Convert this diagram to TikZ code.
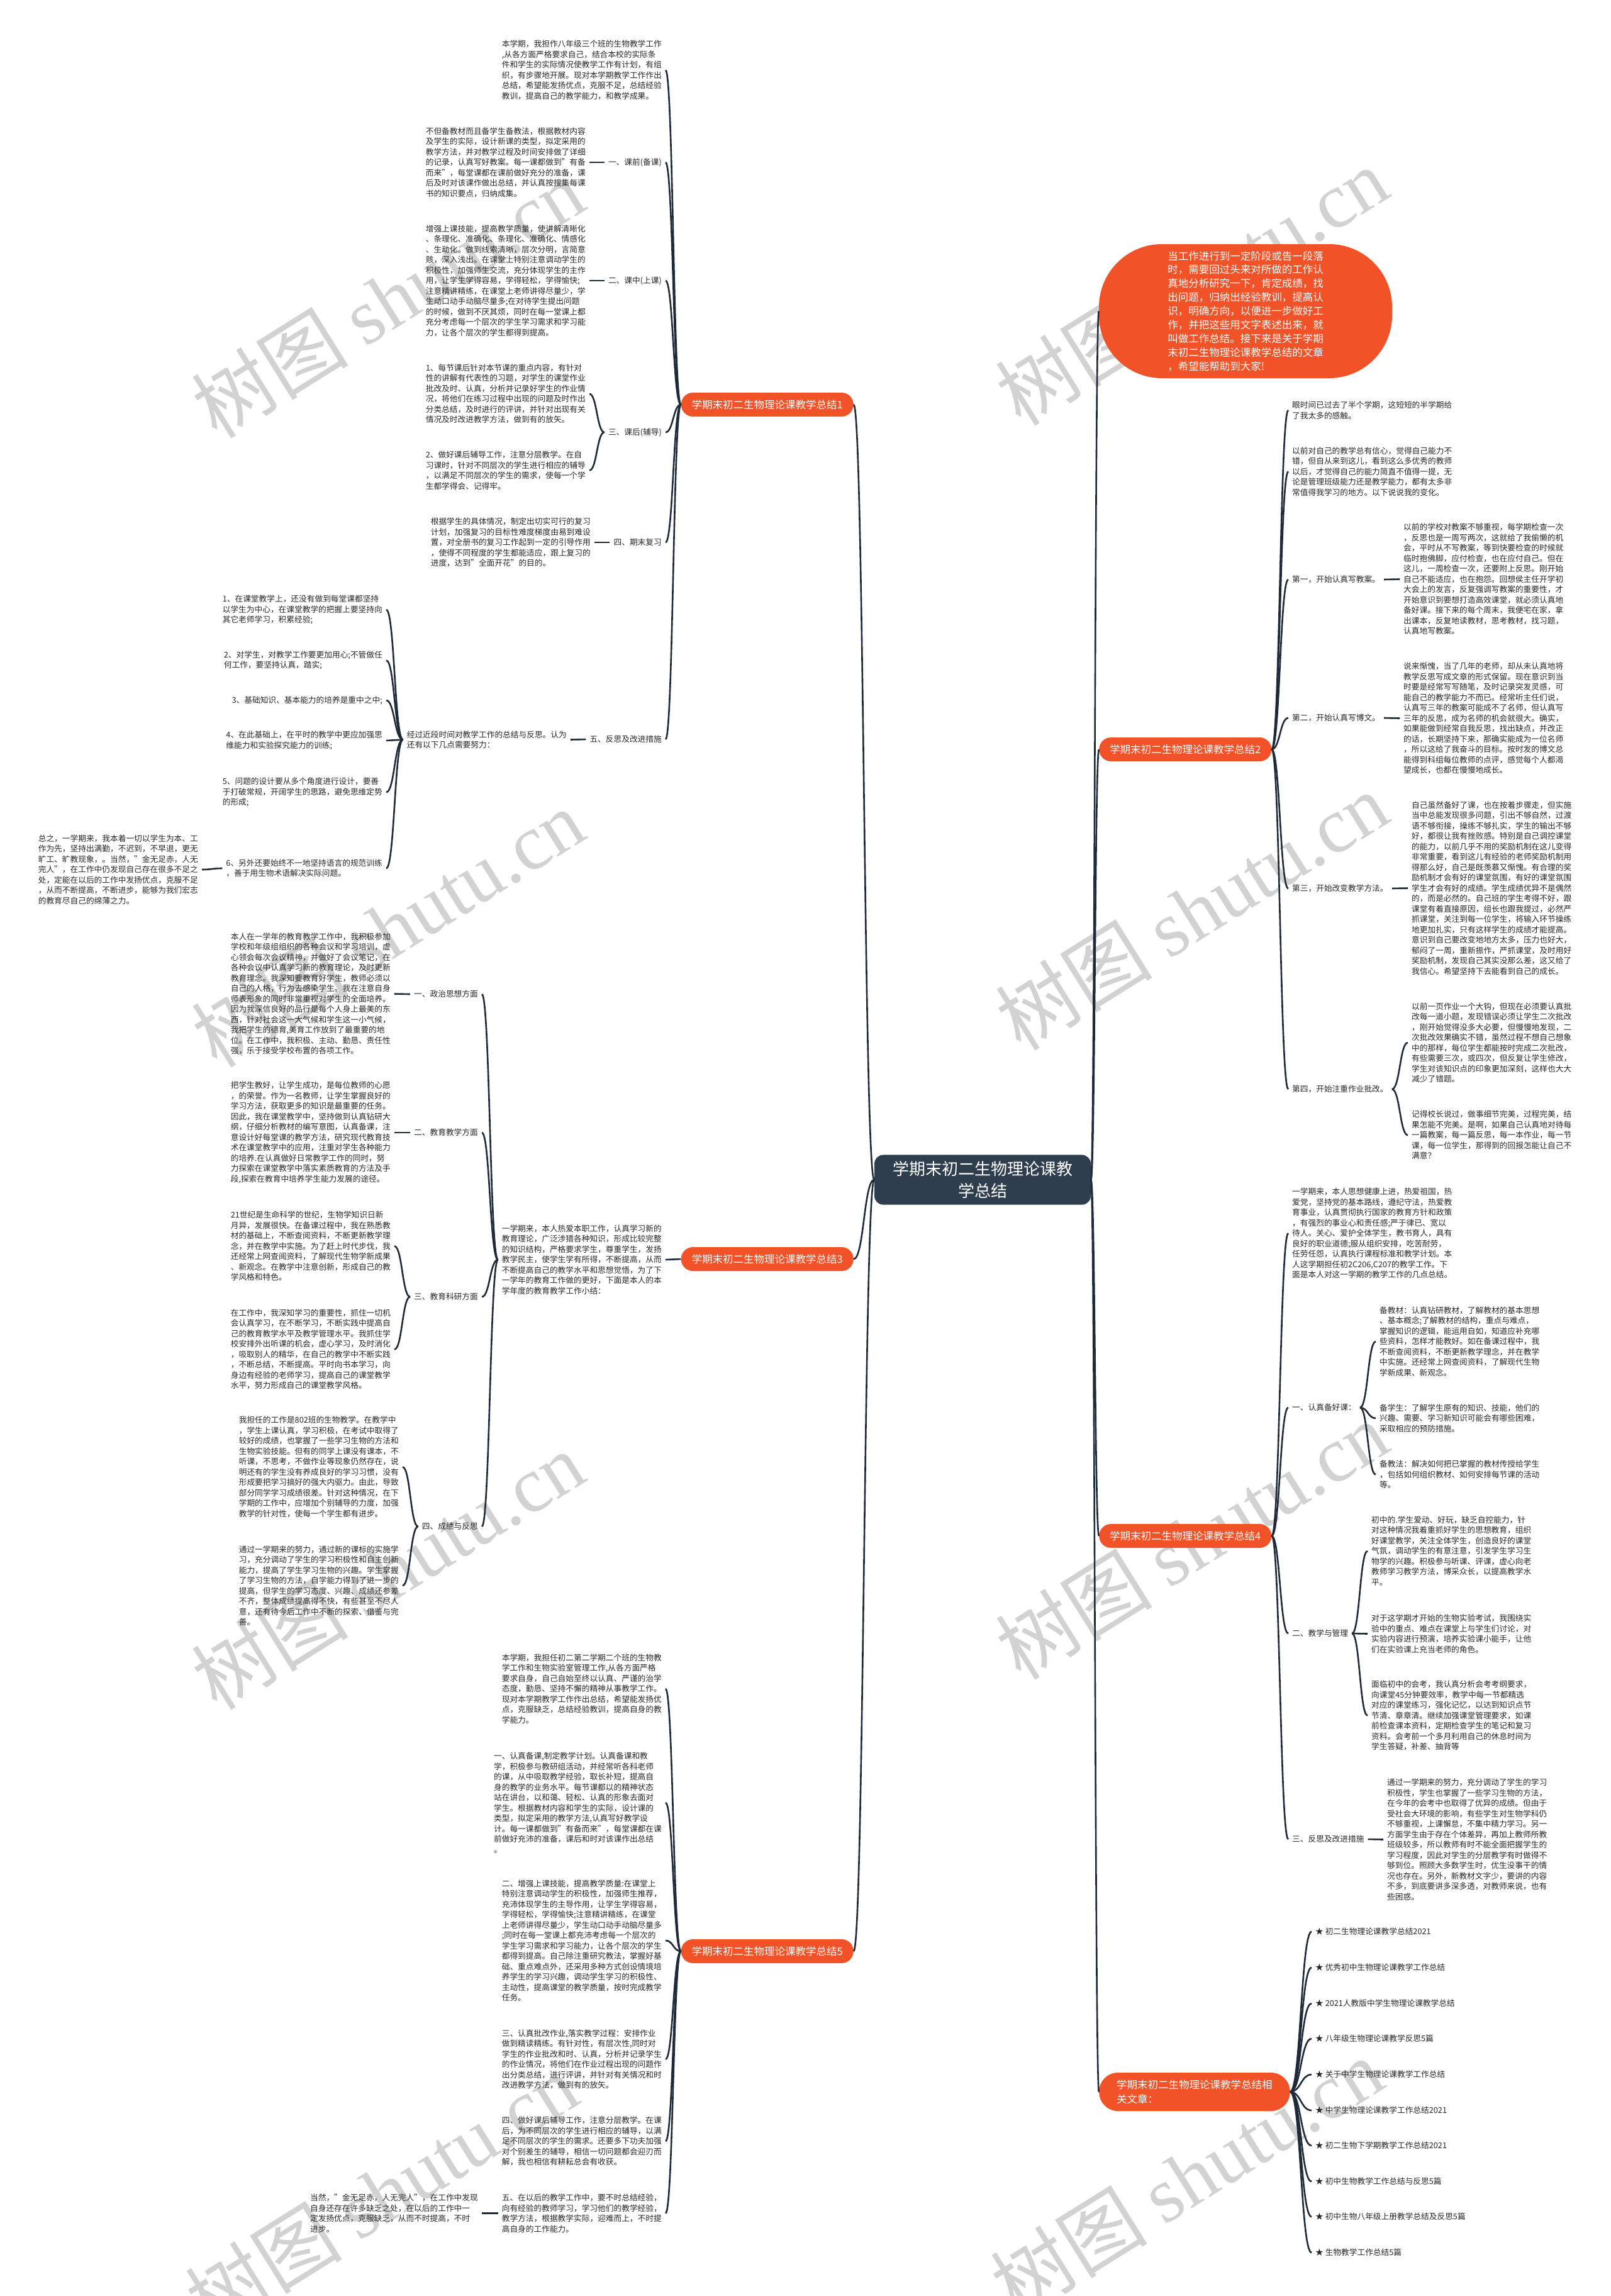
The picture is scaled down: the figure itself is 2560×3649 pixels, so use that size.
\documentclass[tikz,border=0pt]{standalone}
\usepackage{fontspec}
\setmainfont{Noto Sans CJK SC}
\newfontfamily\wmserif{Liberation Serif}
\usetikzlibrary{calc}
\definecolor{redn}{RGB}{242,82,40}
\definecolor{darkn}{RGB}{47,62,78}
\definecolor{linec}{RGB}{30,42,56}
\definecolor{txt}{RGB}{40,40,40}
\definecolor{wmc}{RGB}{210,210,210}
\tikzset{
 conn/.style={draw=linec, line width=2.6pt},
 body/.style={font=\fontsize{12.7}{16.5}\selectfont, text=txt, align=left, inner xsep=6pt, inner ysep=3pt},
 bodyL/.style={body, anchor=east},
 bodyR/.style={body, anchor=west},
 branch/.style={fill=redn, text=white, font=\fontsize{16.5}{21}\selectfont, rounded corners=19pt, inner xsep=17pt, minimum height=38pt},
 centern/.style={fill=darkn, text=white, font=\fontsize{26}{35}\selectfont, align=center, rounded corners=14pt, inner xsep=29pt, inner ysep=10pt},
 wm/.style={text=wmc, font=\fontsize{125}{125}\selectfont, rotate=32, anchor=base west, inner sep=0pt}
}
\newcommand\sconn[2]{\draw[conn] let \p1=(#1), \p2=(#2), \p3=($(\p1)!0.5!(\p2)$) in (\p1) .. controls (\x3,\y1) and (\x3,\y2) .. (\p2);}
\begin{document}
\begin{tikzpicture}[x=1pt,y=-1pt]
\useasboundingbox (0,0) rectangle (2560,3649);
\fill[white] (0,0) rectangle (2560,3649);
% watermarks
\node[wm] (w1) at (345,700) {树图 {\wmserif shutu.cn}};
\node[wm] (w2) at (345,1700) {树图 {\wmserif shutu.cn}};
\node[wm] (w3) at (345,2721) {树图 {\wmserif shutu.cn}};
\node[wm] (w4) at (335,3710) {树图 {\wmserif shutu.cn}};
\node[wm] (w5) at (1623,680) {树图 {\wmserif shutu.cn}};
\node[wm] (w6) at (1623,1673) {树图 {\wmserif shutu.cn}};
\node[wm] (w7) at (1623,2673) {树图 {\wmserif shutu.cn}};
\node[wm] (w8) at (1615,3685) {树图 {\wmserif shutu.cn}};

% central and main branches
\node[centern] (C) at (1562,1875) {学期末初二生物理论课教\\学总结};
\node[fill=redn, text=white, font=\fontsize{16.5}{21.9}\selectfont, align=left, rounded corners=100pt, minimum width=466pt, minimum height=213pt] (R0) at (1980,494.5) {当工作进行到一定阶段或告一段落\\时，需要回过头来对所做的工作认\\真地分析研究一下，肯定成绩，找\\出问题，归纳出经验教训，提高认\\识，明确方向，以便进一步做好工\\作，并把这些用文字表述出来，就\\叫做工作总结。接下来是关于学期\\末初二生物理论课教学总结的文章\\，希望能帮助到大家!};
\node[branch, anchor=east] (B1) at (1357,643) {学期末初二生物理论课教学总结1};
\node[branch, anchor=west] (B2) at (1747,1191) {学期末初二生物理论课教学总结2};
\node[branch, anchor=east] (B3) at (1357,2001) {学期末初二生物理论课教学总结3};
\node[branch, anchor=west] (B4) at (1747,2441) {学期末初二生物理论课教学总结4};
\node[branch, anchor=east] (B5) at (1357,3101) {学期末初二生物理论课教学总结5};
\node[fill=redn, text=white, font=\fontsize{16.5}{23}\selectfont, align=left, rounded corners=30pt, inner xsep=28pt, minimum height=61pt, anchor=west] (B6) at (1747,3324.5) {学期末初二生物理论课教学总结相\\关文章：};

% ===== Branch 1 =====
\node[bodyL] (t1a) at (1058,111.5) {本学期，我担作八年级三个班的生物教学工作\\,从各方面严格要求自己，结合本校的实际条\\件和学生的实际情况使教学工作有计划，有组\\织，有步骤地开展。现对本学期教学工作作出\\总结，希望能发扬优点，克服不足，总结经验\\教训，提高自己的教学能力，和教学成果。};
\node[bodyL] (l1b) at (1058,258) {一、课前(备课)};
\node[bodyL] (t1b) at (937,258) {不但备教材而且备学生备教法，根据教材内容\\及学生的实际，设计新课的类型，拟定采用的\\教学方法，并对教学过程及时间安排做了详细\\的记录，认真写好教案。每一课都做到"有备\\而来"，每堂课都在课前做好充分的准备，课\\后及时对该课作做出总结，并认真按搜集每课\\书的知识要点，归纳成集。};
\node[bodyL] (l1c) at (1058,446) {二、课中(上课)};
\node[bodyL] (t1c) at (937,446) {增强上课技能，提高教学质量，使讲解清晰化\\、条理化、准确化、条理化、准确化、情感化\\、生动化。做到线索清晰，层次分明，言简意\\赅，深入浅出。在课堂上特别注意调动学生的\\积极性，加强师生交流，充分体现学生的主作\\用，让学生学得容易，学得轻松，学得愉快;\\注意精讲精练，在课堂上老师讲得尽量少，学\\生动口动手动脑尽量多;在对待学生提出问题\\的时候，做到不厌其烦，同时在每一堂课上都\\充分考虑每一个层次的学生学习需求和学习能\\力，让各个层次的学生都得到提高。};
\node[bodyL] (l1d) at (1058,687) {三、课后(辅导)};
\node[bodyL] (t1d1) at (937,626) {1、每节课后针对本节课的重点内容，有针对\\性的讲解有代表性的习题，对学生的课堂作业\\批改及时、认真，分析并记录好学生的作业情\\况，将他们在练习过程中出现的问题及时作出\\分类总结，及时进行的评讲，并针对出现有关\\情况及时改进教学方法，做到有的放矢。};
\node[bodyL] (t1d2) at (937,747.5) {2、做好课后辅导工作，注意分层教学。在自\\习课时，针对不同层次的学生进行相应的辅导\\，以满足不同层次的学生的需求，使每一个学\\生都学得会、记得牢。};
\node[bodyL] (l1e) at (1058,862) {四、期末复习};
\node[bodyL] (t1e) at (945,862) {根据学生的具体情况，制定出切实可行的复习\\计划，加强复习的目标性难度梯度由易到难设\\置，对全册书的复习工作起到一定的引导作用\\，使得不同程度的学生都能适应，跟上复习的\\进度，达到"全面开花"的目的。};
\node[bodyL] (l1f) at (1058,1175) {五、反思及改进措施};
\node[bodyL] (t1f) at (907,1175.5) {经过近段时间对教学工作的总结与反思。认为\\还有以下几点需要努力：};
\node[bodyL] (t1f1) at (614,969) {1、在课堂教学上，还没有做到每堂课都坚持\\以学生为中心，在课堂教学的把握上要坚持向\\其它老师学习，积累经验;};
\node[bodyL] (t1f2) at (614,1049.5) {2、对学生，对教学工作要更加用心;不管做任\\何工作，要坚持认真，踏实;};
\node[bodyL] (t1f3) at (614,1113) {3、基础知识、基本能力的培养是重中之中;};
\node[bodyL] (t1f4) at (614,1177) {4、在此基础上，在平时的教学中更应加强思\\维能力和实验探究能力的训练;};
\node[bodyL] (t1f5) at (614,1259) {5、问题的设计要从多个角度进行设计，要善\\于打破常规，开阔学生的思路，避免思维定势\\的形成;};
\node[bodyL] (t1f6) at (614,1380) {6、另外还要始终不一地坚持语言的规范训练\\，善于用生物术语解决实际问题。};
\node[bodyL] (t1f6a) at (321,1382) {总之，一学期来，我本着一切以学生为本、工\\作为先，坚持出满勤，不迟到，不早退，更无\\旷工、旷教现象，。当然，"金无足赤，人无\\完人"，在工作中仍发现自己存在很多不足之\\处，定能在以后的工作中发扬优点，克服不足\\，从而不断提高，不断进步，能够为我们宏志\\的教育尽自己的绵薄之力。};

% ===== Branch 3 =====
\node[bodyL] (t3a) at (1058,2002) {一学期来，本人热爱本职工作，认真学习新的\\教育理论，广泛涉猎各种知识，形成比较完整\\的知识结构，严格要求学生，尊重学生，发扬\\教学民主，使学生学有所得，不断提高，从而\\不断提高自己的教学水平和思想觉悟，为了下\\一学年的教育工作做的更好，下面是本人的本\\学年度的教育教学工作小结：};
\node[bodyL] (l3a) at (766,1580) {一、政治思想方面};
\node[bodyL] (t3a1) at (627,1579.5) {本人在一学年的教育教学工作中，我积极参加\\学校和年级组组织的各种会议和学习培训，虚\\心领会每次会议精神，并做好了会议笔记，在\\各种会议中认真学习新的教育理论，及时更新\\教育理念。我深知要教育好学生，教师必须以\\自己的人格，行为去感染学生。我在注意自身\\师表形象的同时非常重视对学生的全面培养。\\因为我深信良好的品行是每个人身上最美的东\\西，针对社会这一大气候和学生这一小气候，\\我把学生的德育,美育工作放到了最重要的地\\位。在工作中，我积极、主动、勤恳、责任性\\强，乐于接受学校布置的各项工作。};
\node[bodyL] (l3b) at (766,1800) {二、教育教学方面};
\node[bodyL] (t3b1) at (627,1800) {把学生教好，让学生成功，是每位教师的心愿\\，的荣誉。作为一名教师，让学生掌握良好的\\学习方法，获取更多的知识是最重要的任务。\\因此，我在课堂教学中，坚持做到认真钻研大\\纲，仔细分析教材的编写意图，认真备课，注\\意设计好每堂课的教学方法，研究现代教育技\\术在课堂教学中的应用，注重对学生各种能力\\的培养.在认真做好日常教学工作的同时，努\\力探索在课堂教学中落实素质教育的方法及手\\段,探索在教育中培养学生能力发展的途径。};
\node[bodyL] (l3c) at (766,2061) {三、教育科研方面};
\node[bodyL] (t3c1) at (627,1980.5) {21世纪是生命科学的世纪，生物学知识日新\\月异，发展很快。在备课过程中，我在熟悉教\\材的基础上，不断查阅资料，不断更新教学理\\念，并在教学中实施。为了赶上时代步伐，我\\还经常上网查阅资料，了解现代生物学新成果\\、新观念。在教学中注意创新，形成自己的教\\学风格和特色。};
\node[bodyL] (t3c2) at (627,2144.5) {在工作中，我深知学习的重要性，抓住一切机\\会认真学习，在不断学习，不断实践中提高自\\己的教育教学水平及教学管理水平。我抓住学\\校安排外出听课的机会，虚心学习，及时消化\\，吸取别人的精华，在自己的教学中不断实践\\，不断总结，不断提高。平时向书本学习，向\\身边有经验的老师学习，提高自己的课堂教学\\水平，努力形成自己的课堂教学风格。};
\node[bodyL] (l3d) at (766,2426) {四、成绩与反思};
\node[bodyL] (t3d1) at (640,2331.5) {我担任的工作是802班的生物教学。在教学中\\，学生上课认真，学习积极，在考试中取得了\\较好的成绩，也掌握了一些学习生物的方法和\\生物实验技能。但有的同学上课没有课本，不\\听课，不思考，不做作业等现象仍然存在，说\\明还有的学生没有养成良好的学习习惯，没有\\形成要把学习搞好的强大内驱力。由此，导致\\部分同学学习成绩很差。针对这种情况，在下\\学期的工作中，应增加个别辅导的力度，加强\\教学的针对性，使每一个学生都有进步。};
\node[bodyL] (t3d2) at (640,2520) {通过一学期来的努力，通过新的课标的实施学\\习，充分调动了学生的学习积极性和自主创新\\能力，提高了学生学习生物的兴趣。学生掌握\\了学习生物的方法，自学能力得到了进一步的\\提高，但学生的学习态度、兴趣、成绩还参差\\不齐，整体成绩提高得不快，有些甚至不尽人\\意，还有待今后工作中不断的探索、借鉴与完\\善。};

% ===== Branch 5 =====
\node[bodyL] (t5a) at (1058,2684) {本学期，我担任初二第二学期二个班的生物教\\学工作和生物实验室管理工作,从各方面严格\\要求自身，自己自始至终以认真、严谨的治学\\态度，勤恳、坚持不懈的精神从事教学工作。\\现对本学期教学工作作出总结，希望能发扬优\\点，克服缺乏，总结经验教训，提高自身的教\\学能力。};
\node[bodyL] (t5b) at (1058,2865) {一、认真备课,制定教学计划。认真备课和教\\学，积极参与教研组活动，并经常听各科老师\\的课，从中吸取教学经验，取长补短，提高自\\身的教学的业务水平。每节课都以的精神状态\\站在讲台，以和蔼、轻松、认真的形象去面对\\学生。根据教材内容和学生的实际，设计课的\\类型，拟定采用的教学方法,认真写好教学设\\计。每一课都做到"有备而来"，每堂课都在课\\前做好充沛的准备，课后和时对该课作出总结\\。};
\node[bodyL] (t5c) at (1058,3084) {二、增强上课技能，提高教学质量:在课堂上\\特别注意调动学生的积极性，加强师生推荐，\\充沛体现学生的主导作用，让学生学得容易，\\学得轻松，学得愉快;注意精讲精练，在课堂\\上老师讲得尽量少，学生动口动手动脑尽量多\\;同时在每一堂课上都充沛考虑每一个层次的\\学生学习需求和学习能力，让各个层次的学生\\都得到提高。自己除注重研究教法，掌握好基\\础、重点难点外，还采用多种方式创设情境培\\养学生的学习兴趣，调动学生学习的积极性、\\主动性，提高课堂的教学质量，按时完成教学\\任务。};
\node[bodyL] (t5d) at (1058,3272.5) {三、认真批改作业,落实教学过程：安排作业\\做到精读精练。有针对性，有层次性,同时对\\学生的作业批改和时、认真，分析并记录学生\\的作业情况，将他们在作业过程出现的问题作\\出分类总结，进行评讲，并针对有关情况和时\\改进教学方法，做到有的放矢。};
\node[bodyL] (t5e) at (1058,3403) {四、做好课后辅导工作，注意分层教学。在课\\后，为不同层次的学生进行相应的辅导，以满\\足不同层次的学生的需求。还要多下功夫加强\\对个别差生的辅导，相信一切问题都会迎刃而\\解，我也相信有耕耘总会有收获。};
\node[bodyL] (t5f) at (1058,3517.5) {五、在以后的教学工作中，要不时总结经验，\\向有经验的教师学习，学习他们的教学经验，\\教学方法，根据教学实际，迎难而上，不时提\\高自身的工作能力。};
\node[bodyL] (t5g) at (766,3517.5) {当然，"金无足赤，人无完人"，在工作中发现\\自身还存在许多缺乏之处，在以后的工作中一\\定发扬优点，克服缺乏，从而不时提高，不时\\进步。};

% ===== Branch 2 =====
\node[bodyR] (t2a) at (2048,652) {眼时间已过去了半个学期，这短短的半学期给\\了我太多的感触。};
\node[bodyR] (t2b) at (2048,749.5) {以前对自己的教学总有信心，觉得自己能力不\\错，但自从来到这儿，看到这么多优秀的教师\\以后，才觉得自己的能力简直不值得一提，无\\论是管理班级能力还是教学能力，都有太多非\\常值得我学习的地方。以下说说我的变化。};
\node[bodyR] (l2c) at (2048,921) {第一，开始认真写教案。};
\node[bodyR] (t2c) at (2225,920.5) {以前的学校对教案不够重视，每学期检查一次\\，反思也是一周写两次，这就给了我偷懒的机\\会，平时从不写教案，等到快要检查的时候就\\临时抱佛脚，应付检查，也在应付自己。但在\\这儿，一周检查一次，还要附上反思。刚开始\\自己不能适应，也在抱怨。回想侯主任开学初\\大会上的发言，反复强调写教案的重要性，才\\开始意识到要想打造高效课堂，就必须认真地\\备好课。接下来的每个周末，我便宅在家，拿\\出课本，反复地读教材，思考教材，找习题，\\认真地写教案。};
\node[bodyR] (l2d) at (2048,1141) {第二，开始认真写博文。};
\node[bodyR] (t2d) at (2225,1141.5) {说来惭愧，当了几年的老师，却从未认真地将\\教学反思写成文章的形式保留。现在意识到当\\时要是经常写写随笔，及时记录突发灵感，可\\能自己的教学能力不而已。经常听主任们说，\\认真写三年的教案可能成不了名师，但认真写\\三年的反思，成为名师的机会就很大。确实，\\如果能做到经常自我反思，找出缺点，并改正\\的话，长期坚持下来，那确实能成为一位名师\\，所以这给了我奋斗的目标。按时发的博文总\\能得到科组每位教师的点评，感觉每个人都渴\\望成长，也都在慢慢地成长。};
\node[bodyR] (l2e) at (2048,1412) {第三，开始改变教学方法。};
\node[bodyR] (t2e) at (2238,1411.5) {自己虽然备好了课，也在按着步骤走，但实施\\当中总能发现很多问题，引出不够自然，过渡\\语不够衔接，操练不够扎实，学生的输出不够\\好，都很让我有挫败感。特别是自己调控课堂\\的能力，以前几乎不用的奖励机制在这儿变得\\非常重要，看到这儿有经验的老师奖励机制用\\得那么好，自己是既羡慕又惭愧。有合理的奖\\励机制才会有好的课堂氛围，有好的课堂氛围\\学生才会有好的成绩。学生成绩优异不是偶然\\的，而是必然的。自己班的学生考得不好，跟\\课堂有着直接原因，组长也跟我提过，必然严\\抓课堂，关注到每一位学生，将输入环节操练\\地更加扎实，只有这样学生的成绩才能提高。\\意识到自己要改变地地方太多，压力也好大，\\郁闷了一周，重新振作，严抓课堂，及时用好\\奖励机制，发现自己其实没那么差，这又给了\\我信心。希望坚持下去能看到自己的成长。};
\node[bodyR] (l2f) at (2048,1731) {第四，开始注重作业批改。};
\node[bodyR] (t2f1) at (2238,1657) {以前一页作业一个大钩，但现在必须要认真批\\改每一道小题，发现错误必须让学生二次批改\\，刚开始觉得没多大必要，但慢慢地发现，二\\次批改效果确实不错，虽然过程不想自己想象\\中的那样，每位学生都能按时完成二次批改，\\有些需要三次，或四次，但反复让学生修改，\\学生对该知识点的印象更加深刻，这样也大大\\减少了错题。};
\node[bodyR] (t2f2) at (2238,1804) {记得校长说过，做事细节完美，过程完美，结\\果怎能不完美。是啊，如果自己认真地对待每\\一篇教案，每一篇反思，每一本作业，每一节\\课，每一位学生，那得到的回报怎能让自己不\\满意？};

% ===== Branch 4 =====
\node[bodyR] (t4a) at (2048,1960) {一学期来，本人思想健康上进，热爱祖国，热\\爱党，坚持党的基本路线，遵纪守法，热爱教\\育事业，认真贯彻执行国家的教育方针和政策\\，有强烈的事业心和责任感;严于律已、宽以\\待人。关心、爱护全体学生，教书育人，具有\\良好的职业道德;服从组织安排，吃苦耐劳，\\任劳任怨，认真执行课程标准和教学计划。本\\人这学期担任初2C206,C207的教学工作。下\\面是本人对这一学期的教学工作的几点总结。};
\node[bodyR] (l4b) at (2048,2237) {一、认真备好课：};
\node[bodyR] (t4b1) at (2187,2132) {备教材：认真钻研教材，了解教材的基本思想\\、基本概念;了解教材的结构，重点与难点，\\掌握知识的逻辑，能运用自如，知道应补充哪\\些资料，怎样才能教好。如在备课过程中，我\\不断查阅资料，不断更新教学理念，并在教学\\中实施。还经常上网查阅资料，了解现代生物\\学新成果、新观念。};
\node[bodyR] (t4b2) at (2187,2254) {备学生：了解学生原有的知识、技能，他们的\\兴趣、需要、学习新知识可能会有哪些困难，\\采取相应的预防措施。};
\node[bodyR] (t4b3) at (2187,2343.5) {备教法：解决如何把已掌握的教材传授给学生\\，包括如何组织教材、如何安排每节课的活动\\等。};
\node[bodyR] (l4c) at (2048,2596) {二、教学与管理};
\node[bodyR] (t4c1) at (2174,2465) {初中的.学生爱动、好玩，缺乏自控能力，针\\对这种情况我着重抓好学生的思想教育，组织\\好课堂教学，关注全体学生，创造良好的课堂\\气氛，调动学生的有意注意，引发学生学习生\\物学的兴趣。积极参与听课、评课，虚心向老\\教师学习教学方法，博采众长，以提高教学水\\平。};
\node[bodyR] (t4c2) at (2174,2596.5) {对于这学期才开始的生物实验考试，我围绕实\\验中的重点、难点在课堂上与学生们讨论，对\\实验内容进行预演，培养实验课小能手，让他\\们在实验课上充当老师的角色。};
\node[bodyR] (t4c3) at (2174,2726.5) {面临初中的会考，我认真分析会考考纲要求，\\向课堂45分钟要效率，教学中每一节都精选\\对应的课堂练习，强化记忆，以达到知识点节\\节清、章章清。继续加强课堂管理要求，如课\\前检查课本资料，定期检查学生的笔记和复习\\资料。会考前一个多月利用自己的休息时间为\\学生答疑，补差、抽背等};
\node[bodyR] (l4d) at (2048,2923) {三、反思及改进措施};
\node[bodyR] (t4d) at (2199,2923.5) {通过一学期来的努力，充分调动了学生的学习\\积极性，学生也掌握了一些学习生物的方法，\\在今年的会考中也取得了优异的成绩。但由于\\受社会大环境的影响，有些学生对生物学科仍\\不够重视，上课懈怠，不集中精力学习。另一\\方面学生由于存在个体差异，再加上教师所教\\班级较多，所以教师有时不能全面把握学生的\\学习程度，因此对学生的分层教学有时做得不\\够到位。照顾大多数学生时，优生没事干的情\\况也存在。另外，新教材文字少，要讲的内容\\不多，到底要讲多深多透，对教师来说，也有\\些困惑。};

% ===== Related =====
\node[bodyR] (r1) at (2085,3070) {★ 初二生物理论课教学总结2021};
\node[bodyR] (r2) at (2085,3127) {★ 优秀初中生物理论课教学工作总结};
\node[bodyR] (r3) at (2085,3184) {★ 2021人教版中学生物理论课教学总结};
\node[bodyR] (r4) at (2085,3240) {★ 八年级生物理论课教学反思5篇};
\node[bodyR] (r5) at (2085,3297) {★ 关于中学生物理论课教学工作总结};
\node[bodyR] (r6) at (2085,3354) {★ 中学生物理论课教学工作总结2021};
\node[bodyR] (r7) at (2085,3410) {★ 初二生物下学期教学工作总结2021};
\node[bodyR] (r8) at (2085,3467) {★ 初中生物教学工作总结与反思5篇};
\node[bodyR] (r9) at (2085,3523) {★ 初中生物八年级上册教学总结及反思5篇};
\node[bodyR] (r10) at (2085,3580) {★ 生物教学工作总结5篇};

% ===== connectors =====
\sconn{C.west}{B1.east}
\sconn{C.west}{B3.east}
\sconn{C.west}{B5.east}
\sconn{C.east}{R0.west}
\sconn{C.east}{B2.west}
\sconn{C.east}{B4.west}
\sconn{C.east}{B6.west}
\foreach \c in {t1a,l1b,l1c,l1d,l1e,l1f}{\sconn{B1.west}{\c.east}}
\sconn{l1b.west}{t1b.east}
\sconn{l1c.west}{t1c.east}
\sconn{l1d.west}{t1d1.east}
\sconn{l1d.west}{t1d2.east}
\sconn{l1e.west}{t1e.east}
\sconn{l1f.west}{t1f.east}
\foreach \c in {t1f1,t1f2,t1f3,t1f4,t1f5,t1f6}{\sconn{t1f.west}{\c.east}}
\sconn{t1f6.west}{t1f6a.east}
\sconn{B3.west}{t3a.east}
\foreach \c in {l3a,l3b,l3c,l3d}{\sconn{t3a.west}{\c.east}}
\sconn{l3a.west}{t3a1.east}
\sconn{l3b.west}{t3b1.east}
\sconn{l3c.west}{t3c1.east}
\sconn{l3c.west}{t3c2.east}
\sconn{l3d.west}{t3d1.east}
\sconn{l3d.west}{t3d2.east}
\foreach \c in {t5a,t5b,t5c,t5d,t5e,t5f}{\sconn{B5.west}{\c.east}}
\sconn{t5f.west}{t5g.east}
\foreach \c in {t2a,t2b,l2c,l2d,l2e,l2f}{\sconn{B2.east}{\c.west}}
\sconn{l2c.east}{t2c.west}
\sconn{l2d.east}{t2d.west}
\sconn{l2e.east}{t2e.west}
\sconn{l2f.east}{t2f1.west}
\sconn{l2f.east}{t2f2.west}
\foreach \c in {t4a,l4b,l4c,l4d}{\sconn{B4.east}{\c.west}}
\foreach \c in {t4b1,t4b2,t4b3}{\sconn{l4b.east}{\c.west}}
\foreach \c in {t4c1,t4c2,t4c3}{\sconn{l4c.east}{\c.west}}
\sconn{l4d.east}{t4d.west}
\foreach \c in {r1,r2,r3,r4,r5,r6,r7,r8,r9,r10}{\sconn{B6.east}{\c.west}}
\end{tikzpicture}
\end{document}
